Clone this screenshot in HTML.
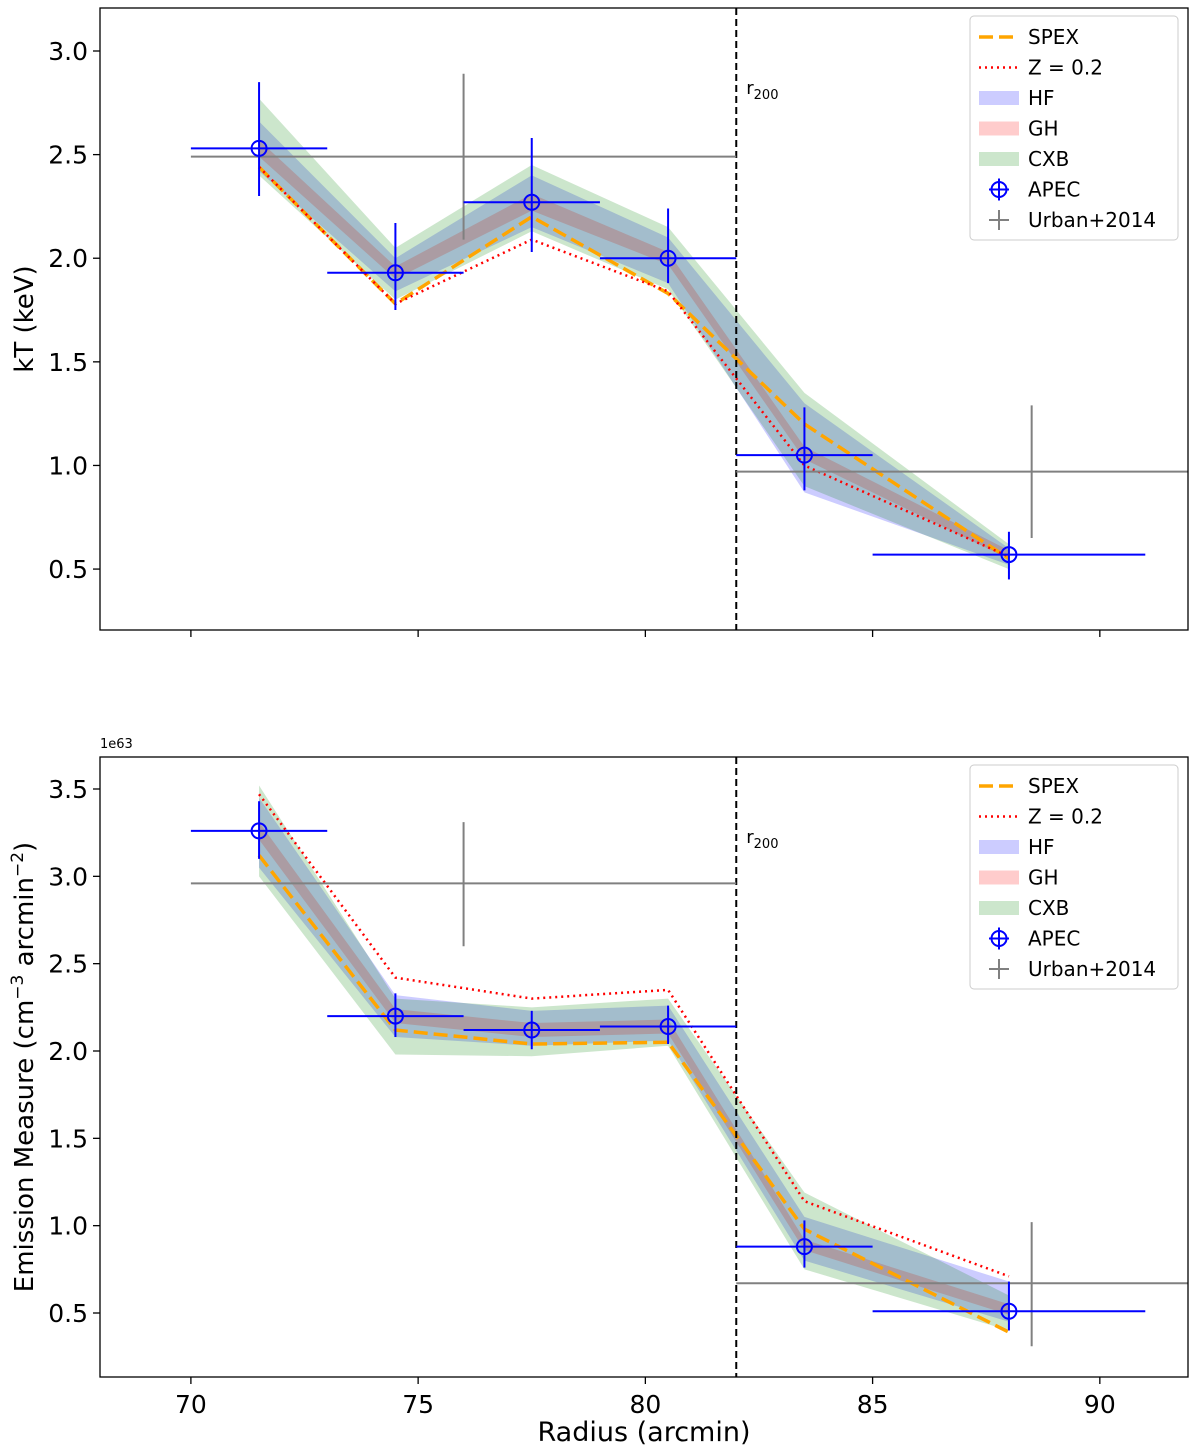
<!DOCTYPE html>
<html><head><meta charset="utf-8"><style>
html,body{margin:0;padding:0;background:#fff}
svg{display:block;font-family:"DejaVu Sans","Liberation Sans",sans-serif}
</style></head><body>
<svg id="chart" width="1200" height="1455" viewBox="0 0 1200 1455" xmlns="http://www.w3.org/2000/svg"></svg>
<script>
// ---- data ----
const radii = [71.5, 74.5, 77.5, 80.5, 83.5, 88];
const radiusErr = [1.5, 1.5, 1.5, 1.5, 1.5, 3];
const ktApec = [2.53, 1.93, 2.27, 2.00, 1.05, 0.57];
const ktApecHi = [2.85, 2.17, 2.58, 2.24, 1.28, 0.68];
const ktApecLo = [2.30, 1.75, 2.03, 1.88, 0.88, 0.45];
const ktSpex = [2.44, 1.78, 2.20, 1.83, 1.20, 0.55];
const ktZ02 = [2.44, 1.78, 2.09, 1.84, 1.00, 0.56];
const ktHfLo = [2.42, 1.84, 2.15, 1.88, 0.87, 0.52];
const ktHfHi = [2.66, 2.00, 2.40, 2.10, 1.30, 0.60];
const ktGhLo = [2.49, 1.90, 2.23, 1.97, 1.03, 0.55];
const ktGhHi = [2.57, 1.96, 2.31, 2.03, 1.09, 0.59];
const ktCxbLo = [2.40, 1.80, 2.13, 1.85, 0.90, 0.50];
const ktCxbHi = [2.77, 2.05, 2.45, 2.15, 1.35, 0.62];
const urbanR = [76, 88.5];
const urbanRLo = [70, 82];
const urbanRHi = [82, 92];
const ktUrban = [2.49, 0.97];
const ktUrbanLo = [2.09, 0.65];
const ktUrbanHi = [2.89, 1.29];

const emApec = [3.26, 2.20, 2.12, 2.14, 0.88, 0.51];
const emApecHi = [3.43, 2.33, 2.23, 2.26, 1.03, 0.68];
const emApecLo = [3.10, 2.08, 2.01, 2.04, 0.76, 0.40];
const emSpex = [3.12, 2.12, 2.04, 2.05, 0.98, 0.39];
const emZ02 = [3.47, 2.42, 2.30, 2.35, 1.14, 0.71];
const emHfLo = [3.05, 2.08, 2.03, 2.06, 0.80, 0.45];
const emHfHi = [3.45, 2.32, 2.23, 2.26, 1.05, 0.68];
const emGhLo = [3.21, 2.16, 2.08, 2.10, 0.86, 0.49];
const emGhHi = [3.31, 2.24, 2.16, 2.18, 0.92, 0.55];
const emCxbLo = [3.00, 1.98, 1.97, 2.03, 0.75, 0.40];
const emCxbHi = [3.52, 2.30, 2.25, 2.30, 1.19, 0.60];
const emUrban = [2.96, 0.67];
const emUrbanLo = [2.60, 0.31];
const emUrbanHi = [3.31, 1.02];

const xTicks = [70, 75, 80, 85, 90];
const ktTicks = [0.5, 1.0, 1.5, 2.0, 2.5, 3.0];
const emTicks = [0.5, 1.0, 1.5, 2.0, 2.5, 3.0, 3.5];
const r200 = 82;

// ---- helpers ----
const NS = "http://www.w3.org/2000/svg";
const svg = document.getElementById("chart");
function el(tag, attrs, parent, txt) {
  const e = document.createElementNS(NS, tag);
  for (const k in attrs) e.setAttribute(k, attrs[k]);
  if (txt !== undefined) e.textContent = txt;
  (parent || svg).appendChild(e);
  return e;
}
const L = 100, R = 1188;
const xS = v => L + (v - 68.0) / (91.94 - 68.0) * (R - L);

function panel(cfg) {
  const g = el("g", {});
  
  
  const T = cfg.top, B = cfg.bottom;
  const yS = v => B - (v - cfg.ymin) / (cfg.ymax - cfg.ymin) * (B - T);
  const clipId = cfg.name + "-clip";
  const cp = el("clipPath", {id: clipId}, g);
  el("rect", {x: L, y: T, width: R - L, height: B - T}, cp);
  const pg = el("g", {"clip-path": "url(#" + clipId + ")"}, g);
  function band(lo, hi, color, name) {
    let d = radii.map((r, i) => (i ? "L" : "M") + xS(r) + "," + yS(hi[i])).join("");
    for (let i = radii.length - 1; i >= 0; i--) d += "L" + xS(radii[i]) + "," + yS(lo[i]);
    const p = el("path", {d: d + "Z", fill: color, "fill-opacity": 0.2, stroke: "none"}, pg);
    
    
  }
  band(cfg.hfLo, cfg.hfHi, "#0000ff", "hf-band");
  band(cfg.ghLo, cfg.ghHi, "#ff0000", "gh-band");
  band(cfg.cxbLo, cfg.cxbHi, "#008000", "cxb-band");
  function line(vals, color, dash, w, name) {
    const d = radii.map((r, i) => (i ? "L" : "M") + xS(r) + "," + yS(vals[i])).join("");
    const p = el("path", {d: d, fill: "none", stroke: color, "stroke-width": w, "stroke-dasharray": dash}, pg);
    
    
  }
  line(cfg.spex, "#ffa500", "14,6", 3.5, "spex-line");
  line(cfg.z02, "#ff0000", "2,4", 2.5, "z02-line");
  const rl = el("line", {x1: xS(r200), x2: xS(r200), y1: T, y2: B, stroke: "#000", "stroke-width": 2, "stroke-dasharray": "7,4"}, pg);
  
  
  const rt = el("text", {x: xS(r200) + 10, y: T + 86, "font-size": 18}, g);
  
  
  rt.innerHTML = 'r<tspan font-size="13" dy="5">200</tspan>';
  for (let i = 0; i < urbanR.length; i++) {
    const u = el("g", {stroke: "#808080", "stroke-width": 2}, pg);
    
    
    el("line", {x1: xS(urbanRLo[i]), x2: xS(urbanRHi[i]), y1: yS(cfg.urban[i]), y2: yS(cfg.urban[i])}, u);
    el("line", {x1: xS(urbanR[i]), x2: xS(urbanR[i]), y1: yS(cfg.urbanLo[i]), y2: yS(cfg.urbanHi[i])}, u);
  }
  for (let i = 0; i < radii.length; i++) {
    const a = el("g", {stroke: "#0000ff", "stroke-width": 2, fill: "none"}, pg);
    
    
    const cx = xS(radii[i]), cy = yS(cfg.apec[i]);
    el("line", {x1: xS(radii[i] - radiusErr[i]), x2: xS(radii[i] + radiusErr[i]), y1: cy, y2: cy}, a);
    el("line", {x1: cx, x2: cx, y1: yS(cfg.apecLo[i]), y2: yS(cfg.apecHi[i])}, a);
    el("circle", {cx: cx, cy: cy, r: 7.5}, a);
  }
  el("rect", {x: L, y: T, width: R - L, height: B - T, fill: "none", stroke: "#000", "stroke-width": 1.3}, g);
  cfg.yticks.forEach(v => {
    el("line", {x1: L - 7, x2: L, y1: yS(v), y2: yS(v), stroke: "#000", "stroke-width": 1.3}, g);
    const t = el("text", {x: L - 12, y: yS(v) + 9, "font-size": 25, "text-anchor": "end"}, g, v.toFixed(1));
    
    
  });
  xTicks.forEach(v => {
    el("line", {x1: xS(v), x2: xS(v), y1: B, y2: B + 7, stroke: "#000", "stroke-width": 1.3}, g);
    if (cfg.xlabels) {
      const t = el("text", {x: xS(v), y: B + 36, "font-size": 25, "text-anchor": "middle"}, g, String(v));
      
      
    }
  });
  const yl = el("text", {x: 0, y: 0, "font-size": 26, "text-anchor": "middle", transform: "translate(33," + ((T + B) / 2) + ") rotate(-90)"}, g);
  
  
  yl.innerHTML = cfg.ylabel;
  const lg = el("g", {}, g);
  
  
  const lx = 970, ly = T + 8;
  el("rect", {x: lx, y: ly, width: 208, height: 224, rx: 4, fill: "#fff", "fill-opacity": 0.8, stroke: "#ccc", "stroke-width": 1}, lg);
  const items = [["SPEX", "spex"], ["Z = 0.2", "z"], ["HF", "hf"], ["GH", "gh"], ["CXB", "cxb"], ["APEC", "apec"], ["Urban+2014", "urban"]];
  items.forEach((it, i) => {
    const y = ly + 21 + i * 30.5;
    const eg = el("g", {}, lg);
    
    
    const k = it[1], x0 = lx + 9, x1 = lx + 49;
    if (k === "spex") el("line", {x1: x0, x2: x1, y1: y, y2: y, stroke: "#ffa500", "stroke-width": 3.5, "stroke-dasharray": "14,6"}, eg);
    if (k === "z") el("line", {x1: x0, x2: x1, y1: y, y2: y, stroke: "#ff0000", "stroke-width": 2.5, "stroke-dasharray": "2,4"}, eg);
    if (k === "hf") el("rect", {x: x0, y: y - 7, width: 40, height: 14, fill: "#0000ff", "fill-opacity": 0.2}, eg);
    if (k === "gh") el("rect", {x: x0, y: y - 7, width: 40, height: 14, fill: "#ff0000", "fill-opacity": 0.2}, eg);
    if (k === "cxb") el("rect", {x: x0, y: y - 7, width: 40, height: 14, fill: "#008000", "fill-opacity": 0.2}, eg);
    if (k === "apec") {
      el("line", {x1: x0 + 10, x2: x0 + 30, y1: y, y2: y, stroke: "#0000ff", "stroke-width": 2}, eg);
      el("line", {x1: x0 + 20, x2: x0 + 20, y1: y - 11, y2: y + 11, stroke: "#0000ff", "stroke-width": 2}, eg);
      el("circle", {cx: x0 + 20, cy: y, r: 7.5, fill: "none", stroke: "#0000ff", "stroke-width": 2}, eg);
    }
    if (k === "urban") {
      el("line", {x1: x0 + 10, x2: x0 + 30, y1: y, y2: y, stroke: "#808080", "stroke-width": 2}, eg);
      el("line", {x1: x0 + 20, x2: x0 + 20, y1: y - 10, y2: y + 10, stroke: "#808080", "stroke-width": 2}, eg);
    }
    el("text", {x: lx + 58, y: y + 7, "font-size": 20}, eg, it[0]);
  });
}

panel({name: "kt-panel", top: 8, bottom: 630, ymin: 0.206, ymax: 3.2075, yticks: ktTicks,
  apec: ktApec, apecHi: ktApecHi, apecLo: ktApecLo, spex: ktSpex, z02: ktZ02,
  hfLo: ktHfLo, hfHi: ktHfHi, ghLo: ktGhLo, ghHi: ktGhHi, cxbLo: ktCxbLo, cxbHi: ktCxbHi,
  urban: ktUrban, urbanLo: ktUrbanLo, urbanHi: ktUrbanHi, xlabels: false, ylabel: "kT (keV)"});
panel({name: "em-panel", top: 757, bottom: 1377, ymin: 0.1336, ymax: 3.6832, yticks: emTicks,
  apec: emApec, apecHi: emApecHi, apecLo: emApecLo, spex: emSpex, z02: emZ02,
  hfLo: emHfLo, hfHi: emHfHi, ghLo: emGhLo, ghHi: emGhHi, cxbLo: emCxbLo, cxbHi: emCxbHi,
  urban: emUrban, urbanLo: emUrbanLo, urbanHi: emUrbanHi, xlabels: true,
  ylabel: 'Emission Measure (cm<tspan font-size="17" dy="-10">−3</tspan><tspan dy="10"> arcmin</tspan><tspan font-size="17" dy="-10">−2</tspan><tspan dy="10">)</tspan>'});

const off = el("text", {x: 100, y: 748, "font-size": 13}, svg, "1e63");


const xl = el("text", {x: 644, y: 1441, "font-size": 27, "text-anchor": "middle"}, svg, "Radius (arcmin)");


</script>
</body></html>
